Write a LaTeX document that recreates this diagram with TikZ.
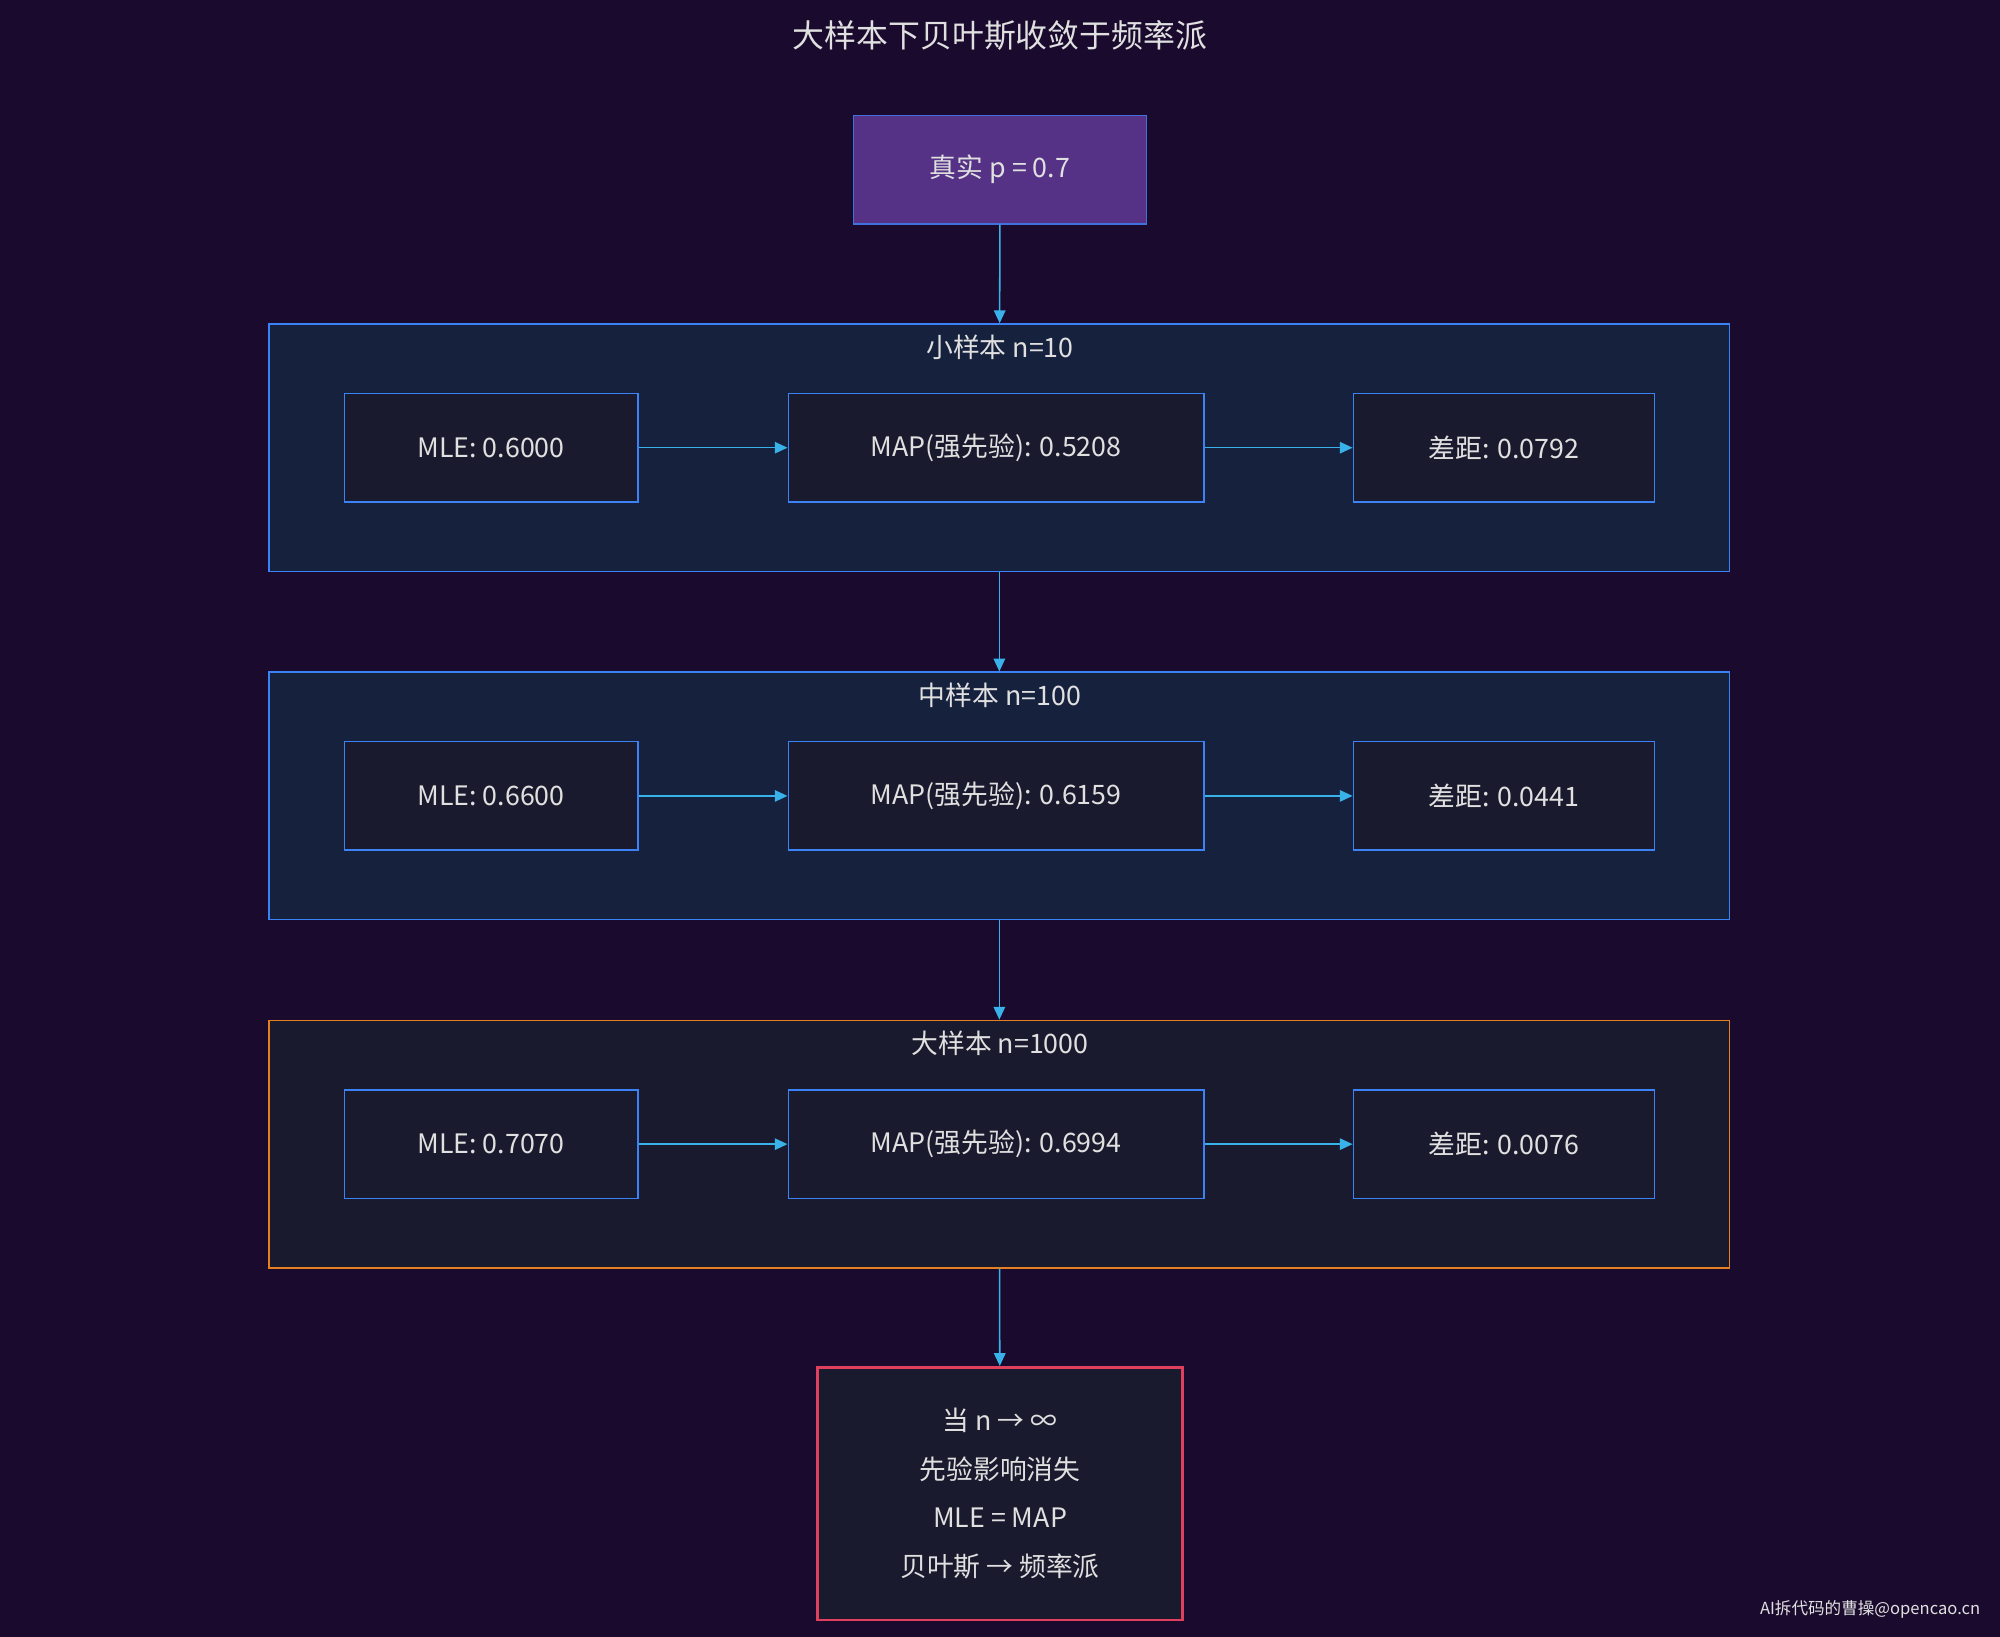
\documentclass[tikz,border=0pt]{standalone}
\usepackage{fontspec}
\setmainfont{Noto Sans CJK SC}
\usetikzlibrary{arrows.meta}
\definecolor{bgcol}{HTML}{1A0B2E}
\definecolor{subcol}{HTML}{16213E}
\definecolor{boxcol}{HTML}{1A1A2E}
\definecolor{bluecol}{HTML}{3B82F6}
\definecolor{orangecol}{HTML}{E67E22}
\definecolor{redcol}{HTML}{E0405E}
\definecolor{purplecol}{HTML}{553285}
\definecolor{arrcol}{HTML}{38B2E8}
\definecolor{txtcol}{HTML}{E0E0E0}
\tikzset{
  box/.style={draw=bluecol, fill=boxcol, line width=1.2pt, minimum width=230pt, minimum height=85pt, text=txtcol, font=\fontsize{21}{25}\selectfont},
  group/.style={draw=bluecol, fill=subcol, line width=1.2pt, minimum width=1145pt, minimum height=194pt},
  glabel/.style={text=txtcol, font=\fontsize{21}{25}\selectfont},
  flow/.style={draw=arrcol, line width=1.2pt, -{Triangle[length=10pt,width=9pt]}}
}
\begin{document}
\begin{tikzpicture}[x=1pt,y=1pt,yscale=-1]
\fill[bgcol] (0,0) rectangle (1568,1283);
\useasboundingbox (0,0) rectangle (1568,1283);

\node[text=txtcol, font=\fontsize{25}{30}\selectfont] (title) at (784,28) {大样本下贝叶斯收敛于频率派};

\node[box, fill=purplecol, draw=bluecol!80!purplecol] (truth) at (784,133) {真实 p = 0.7};

% groups
\node[group] (small) at (783.5,351) {};
\node[glabel] (smalllab) at (784,272) {小样本 n=10};
\node[group] (mid) at (783.5,624) {};
\node[glabel] (midlab) at (784,545) {中样本 n=100};
\node[group, draw=orangecol, fill=boxcol] (large) at (783.5,897) {};
\node[glabel] (largelab) at (784,818) {大样本 n=1000};

% rows
\foreach \g/\y/\mle/\map/\diff in {s/351/0.6000/0.5208/0.0792, m/624/0.6600/0.6159/0.0441, l/897/0.7070/0.6994/0.0076}{
  \node[box] (\g mle) at (385,\y) {MLE: \mle};
  \node[box, minimum width=326pt] (\g map) at (781,\y) {MAP(强先验): \map};
  \node[box, minimum width=236pt] (\g diff) at (1179,\y) {差距: \diff};
  \draw[flow] (\g mle) -- (\g map);
  \draw[flow] (\g map) -- (\g diff);
}

\node[box, draw=redcol, line width=2.2pt, minimum width=286pt, minimum height=198pt, align=center, font=\fontsize{21}{38}\selectfont] (limit) at (784,1171)
  {当 n → ∞\\先验影响消失\\MLE = MAP\\贝叶斯 → 频率派};

\draw[flow] (truth) -- (small);
\draw[flow] (small) -- (mid);
\draw[flow] (mid) -- (large);
\draw[flow] (large) -- (limit);

\node[text=txtcol, font=\fontsize{13}{15}\selectfont, anchor=east] (mark) at (1556,1262) {AI拆代码的曹操@opencao.cn};
\end{tikzpicture}
\end{document}
